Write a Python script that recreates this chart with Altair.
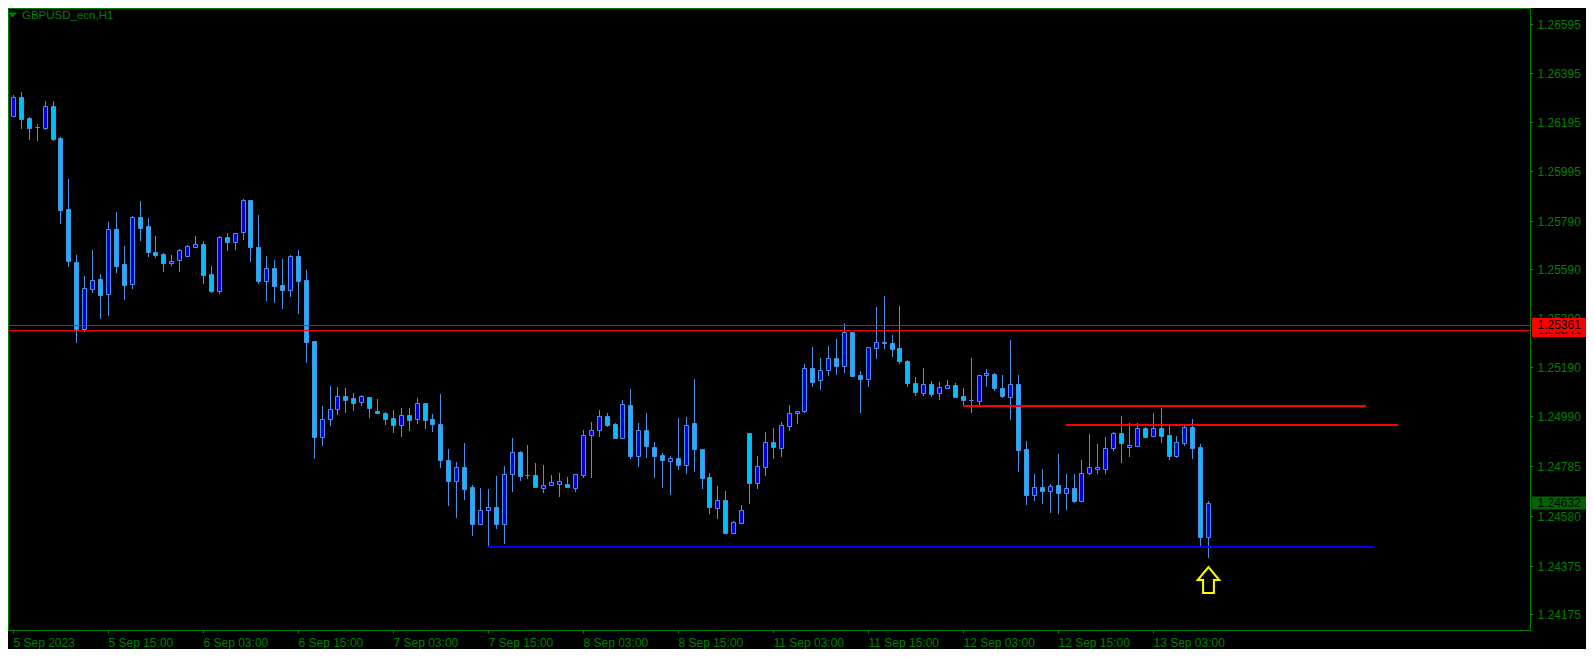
import altair as alt
import pandas as pd

# ---------------- data ----------------
bar_open = [
    1.26220, 1.26296, 1.26209, 1.26172, 1.26171, 1.26259, 1.26127, 1.25836, 1.25622, 1.25345,
    1.25510, 1.25549, 1.25490, 1.25754, 1.25612, 1.25529, 1.25805, 1.25768, 1.25661, 1.25653,
    1.25617, 1.25629, 1.25646, 1.25683, 1.25693, 1.25571, 1.25503, 1.25721, 1.25703, 1.25742,
    1.25873, 1.25680, 1.25543, 1.25594, 1.25525, 1.25507, 1.25643, 1.25545, 1.25295, 1.24901,
    1.24975, 1.25016, 1.25069, 1.25061, 1.25045, 1.25065, 1.25009, 1.25001, 1.24979, 1.24953,
    1.24991, 1.24977, 1.25040, 1.24975, 1.24954, 1.24808, 1.24723, 1.24778, 1.24696, 1.24547,
    1.24601, 1.24617, 1.24547, 1.24749, 1.24839, 1.24745, 1.24745, 1.24692, 1.24704, 1.24708,
    1.24708, 1.24694, 1.24748, 1.24909, 1.24930, 1.24987, 1.24954, 1.24897, 1.25032, 1.24826,
    1.24930, 1.24860, 1.24830, 1.24803, 1.24815, 1.24786, 1.24959, 1.24855, 1.24737, 1.24611,
    1.24642, 1.24510, 1.24551, 1.24917, 1.24715, 1.24780, 1.24880, 1.24858, 1.24949, 1.25000,
    1.25007, 1.25184, 1.25135, 1.25176, 1.25225, 1.25192, 1.25332, 1.25155, 1.25141, 1.25266,
    1.25287, 1.25287, 1.25266, 1.25213, 1.25122, 1.25084, 1.25118, 1.25084, 1.25103, 1.25115,
    1.25069, 1.25053, 1.25051, 1.25155, 1.25159, 1.25103, 1.25068, 1.25118, 1.24855, 1.24666,
    1.24696, 1.24682, 1.24704, 1.24674, 1.24692, 1.24641, 1.24755, 1.24772, 1.24772, 1.24856,
    1.24917, 1.24860, 1.24867, 1.24938, 1.24908, 1.24938, 1.24909, 1.24826, 1.24879, 1.24942,
    1.24863, 1.24493,
]
bar_high = [
    1.26305, 1.26316, 1.26213, 1.26185, 1.26279, 1.26279, 1.26131, 1.25960, 1.25647, 1.25562,
    1.25669, 1.25570, 1.25783, 1.25824, 1.25686, 1.25809, 1.25870, 1.25799, 1.25725, 1.25657,
    1.25647, 1.25673, 1.25690, 1.25727, 1.25706, 1.25604, 1.25727, 1.25739, 1.25738, 1.25878,
    1.25873, 1.25813, 1.25643, 1.25627, 1.25632, 1.25649, 1.25668, 1.25587, 1.25295, 1.25029,
    1.25111, 1.25106, 1.25102, 1.25082, 1.25075, 1.25065, 1.25058, 1.25004, 1.25012, 1.25021,
    1.25021, 1.25062, 1.25040, 1.24995, 1.25079, 1.24853, 1.24798, 1.24876, 1.24705, 1.24692,
    1.24688, 1.24742, 1.24782, 1.24897, 1.24845, 1.24869, 1.24795, 1.24786, 1.24745, 1.24755,
    1.24738, 1.24749, 1.24931, 1.24964, 1.25012, 1.25000, 1.24959, 1.25053, 1.25099, 1.24959,
    1.25000, 1.24880, 1.24835, 1.24824, 1.24979, 1.24984, 1.25140, 1.24855, 1.24753, 1.24701,
    1.24680, 1.24556, 1.24622, 1.24917, 1.24824, 1.24922, 1.24938, 1.24962, 1.25034, 1.25008,
    1.25200, 1.25271, 1.25225, 1.25276, 1.25304, 1.25370, 1.25332, 1.25173, 1.25270, 1.25435,
    1.25481, 1.25319, 1.25441, 1.25217, 1.25147, 1.25184, 1.25132, 1.25128, 1.25136, 1.25123,
    1.25103, 1.25225, 1.25155, 1.25180, 1.25164, 1.25155, 1.25300, 1.25155, 1.24885, 1.24749,
    1.24770, 1.24708, 1.24833, 1.24749, 1.24749, 1.24808, 1.24913, 1.24872, 1.24901, 1.24922,
    1.24987, 1.24959, 1.24959, 1.24942, 1.25000, 1.25020, 1.24950, 1.24905, 1.24950, 1.24975,
    1.24873, 1.24639,
]
bar_low = [
    1.26216, 1.26167, 1.26120, 1.26117, 1.26163, 1.26117, 1.25777, 1.25601, 1.25288, 1.25331,
    1.25494, 1.25388, 1.25400, 1.25576, 1.25465, 1.25510, 1.25707, 1.25642, 1.25638, 1.25581,
    1.25605, 1.25581, 1.25641, 1.25679, 1.25531, 1.25494, 1.25490, 1.25666, 1.25671, 1.25710,
    1.25621, 1.25531, 1.25461, 1.25453, 1.25429, 1.25478, 1.25408, 1.25207, 1.24814, 1.24867,
    1.24949, 1.24994, 1.25002, 1.25010, 1.25031, 1.24981, 1.24995, 1.24953, 1.24920, 1.24903,
    1.24928, 1.24956, 1.24936, 1.24924, 1.24777, 1.24620, 1.24571, 1.24645, 1.24497, 1.24547,
    1.24452, 1.24526, 1.24465, 1.24678, 1.24723, 1.24731, 1.24696, 1.24674, 1.24702, 1.24656,
    1.24694, 1.24678, 1.24735, 1.24735, 1.24903, 1.24945, 1.24897, 1.24897, 1.24814, 1.24780,
    1.24818, 1.24735, 1.24694, 1.24666, 1.24766, 1.24749, 1.24757, 1.24690, 1.24588, 1.24567,
    1.24506, 1.24506, 1.24547, 1.24629, 1.24690, 1.24743, 1.24814, 1.24820, 1.24928, 1.24957,
    1.25002, 1.25109, 1.25096, 1.25154, 1.25158, 1.25166, 1.25150, 1.25002, 1.25109, 1.25223,
    1.25264, 1.25231, 1.25203, 1.25109, 1.25072, 1.25072, 1.25068, 1.25055, 1.25102, 1.25068,
    1.25031, 1.25002, 1.25035, 1.25109, 1.25090, 1.25064, 1.24973, 1.24757, 1.24624, 1.24641,
    1.24629, 1.24592, 1.24588, 1.24603, 1.24633, 1.24641, 1.24748, 1.24749, 1.24749, 1.24844,
    1.24797, 1.24820, 1.24867, 1.24899, 1.24903, 1.24879, 1.24806, 1.24818, 1.24867, 1.24814,
    1.24456, 1.24407,
]
bar_close = [
    1.26296, 1.26208, 1.26171, 1.26172, 1.26259, 1.26126, 1.25834, 1.25625, 1.25346, 1.25512,
    1.25545, 1.25486, 1.25755, 1.25605, 1.25527, 1.25805, 1.25761, 1.25659, 1.25650, 1.25617,
    1.25625, 1.25668, 1.25684, 1.25693, 1.25568, 1.25503, 1.25721, 1.25702, 1.25738, 1.25873,
    1.25683, 1.25543, 1.25594, 1.25523, 1.25507, 1.25643, 1.25543, 1.25293, 1.24901, 1.24975,
    1.25016, 1.25069, 1.25055, 1.25040, 1.25069, 1.25022, 1.25002, 1.24977, 1.24953, 1.24991,
    1.24973, 1.25040, 1.24973, 1.24957, 1.24806, 1.24723, 1.24778, 1.24690, 1.24547, 1.24601,
    1.24617, 1.24547, 1.24749, 1.24839, 1.24743, 1.24745, 1.24696, 1.24704, 1.24716, 1.24720,
    1.24698, 1.24749, 1.24909, 1.24930, 1.24987, 1.24953, 1.24897, 1.25036, 1.24826, 1.24930,
    1.24865, 1.24826, 1.24806, 1.24815, 1.24786, 1.24950, 1.24851, 1.24735, 1.24616, 1.24642,
    1.24510, 1.24552, 1.24601, 1.24715, 1.24782, 1.24880, 1.24862, 1.24950, 1.25000, 1.25008,
    1.25184, 1.25129, 1.25176, 1.25225, 1.25192, 1.25332, 1.25152, 1.25141, 1.25270, 1.25291,
    1.25292, 1.25262, 1.25213, 1.25125, 1.25088, 1.25118, 1.25080, 1.25107, 1.25115, 1.25068,
    1.25055, 1.25053, 1.25155, 1.25164, 1.25102, 1.25072, 1.25118, 1.24850, 1.24666, 1.24698,
    1.24682, 1.24700, 1.24674, 1.24692, 1.24641, 1.24755, 1.24778, 1.24778, 1.24856, 1.24917,
    1.24879, 1.24869, 1.24938, 1.24903, 1.24938, 1.24908, 1.24826, 1.24880, 1.24942, 1.24858,
    1.24493, 1.24632,
]

tick_bars = [0, 12, 24, 36, 48, 60, 72, 84, 96, 108, 120, 132, 144]
tick_labels = ["5 Sep 2023", "5 Sep 15:00", "6 Sep 03:00", "6 Sep 15:00", "7 Sep 03:00",
               "7 Sep 15:00", "8 Sep 03:00", "8 Sep 15:00", "11 Sep 03:00", "11 Sep 15:00",
               "12 Sep 03:00", "12 Sep 15:00", "13 Sep 03:00"]
price_ticks = [1.26595, 1.26395, 1.26195, 1.25995, 1.25790, 1.25590, 1.25390,
               1.25190, 1.24990, 1.24785, 1.24580, 1.24375, 1.24175]

thin_level_price = [1.25361, 1.25341]
thin_level_start = [-10, -10]
thin_level_end = [200, 200]
thin_level_color = ["#ff0000", "#ff0000"]

thick_level_price = [1.25031, 1.24953, 1.24452]
thick_level_start = [120, 133, 60]
thick_level_end = [171, 175, 172]
thick_level_color = ["#ff0000", "#ff0000", "#0000ff"]

label_price = [1.25341, 1.25361, 1.24632]
label_text = ["1.25341", "1.25361", "1.24632"]
label_fill = ["#ff0000", "#ff0000", "#006400"]

arrow_bar = [151]
arrow_price = [1.24317]

symbol_title = "GBPUSD_ecn,H1"

# ---------------- styling ----------------
GREEN = "#008000"
WICK = "#4f8fe6"
BULL = "#0000dc"
BEAR = "#00bfff"
FONT = "Liberation Sans"

bars = pd.DataFrame({"i": list(range(len(bar_open))), "o": bar_open, "h": bar_high,
                     "l": bar_low, "c": bar_close})
bars["dir"] = ["up" if c > o else "down" for o, c in zip(bar_open, bar_close)]

xs = alt.Scale(domain=[0, 191.04], nice=False, zero=False, round=True)
ys = alt.Scale(domain=[1.2411059, 1.2666186], nice=False, zero=False, round=True)

label_expr = "[" + ",".join("'%s'" % s for s in tick_labels) + "][round(datum.value / 12)]"
x_axis = alt.Axis(values=tick_bars, labelExpr=label_expr, orient="bottom", title=None,
                  grid=False, domain=False, ticks=True, tickSize=3, tickColor=GREEN,
                  labelColor=GREEN, labelFont=FONT, labelFontSize=12, labelAlign="left",
                  labelBaseline="top", labelPadding=4, labelFlush=False,
                  labelOverlap=False, labelBound=False)
y_axis = alt.Axis(values=price_ticks, format=".5f", orient="right", title=None,
                  grid=False, domain=False, ticks=True, tickSize=3, tickColor=GREEN,
                  labelColor=GREEN, labelFont=FONT, labelFontSize=12, labelAlign="left",
                  labelBaseline="middle", labelPadding=4, labelFlush=False,
                  labelOverlap=False, labelBound=False)


def X(f):
    return alt.X(f, type="quantitative", scale=xs, axis=x_axis)


def Y(f):
    return alt.Y(f, type="quantitative", scale=ys, axis=y_axis)


wicks = alt.Chart(bars).mark_rule(color=WICK, strokeWidth=1, xOffset=0.5, clip=True).encode(
    x=X("i"), y=Y("l"), y2=alt.Y2("h"))

bodies = alt.Chart(bars).mark_bar(size=4, stroke=WICK, strokeWidth=1, xOffset=0.5,
                                  yOffset=0.5, y2Offset=0.5, clip=True).encode(
    x=X("i"), y=Y("o"), y2=alt.Y2("c"),
    fill=alt.Fill("dir:N", scale=alt.Scale(domain=["up", "down"], range=[BULL, BEAR]),
                  legend=None))

thin_df = pd.DataFrame({"p": thin_level_price, "s": thin_level_start,
                        "e": thin_level_end, "col": thin_level_color})
thin = alt.Chart(thin_df).mark_rule(strokeWidth=1, yOffset=0.5, clip=True).encode(
    x=X("s"), x2=alt.X2("e"), y=Y("p"), color=alt.Color("col:N", scale=None))

thick_df = pd.DataFrame({"p": thick_level_price, "s": thick_level_start,
                         "e": thick_level_end, "col": thick_level_color})
thick = alt.Chart(thick_df).mark_rule(strokeWidth=2, clip=True).encode(
    x=X("s"), x2=alt.X2("e"), y=Y("p"), color=alt.Color("col:N", scale=None))

label_layers = []
for p, t, f in zip(label_price, label_text, label_fill):
    df = pd.DataFrame({"p": [p], "t": [t], "f": [f]})
    half = 6.5 if f != "#ff0000" else 7
    label_layers.append(
        alt.Chart(df).mark_rect(clip=False, yOffset=-half, y2Offset=half).encode(
            x=alt.value(1524), x2=alt.value(1582), y=Y("p"), y2=alt.Y2("p"),
            color=alt.Color("f:N", scale=None)))
    label_layers.append(
        alt.Chart(df).mark_text(align="left", baseline="middle", font=FONT, fontSize=12,
                                color="black", clip=False).encode(
            x=alt.value(1529.5), y=Y("p"), text="t:N"))

ARROW = "M0,-1.2L1,0L0.5,0L0.5,1.2L-0.5,1.2L-0.5,0L-1,0Z"
arrow_df = pd.DataFrame({"i": arrow_bar, "p": arrow_price})
arrow = alt.Chart(arrow_df).mark_point(shape=ARROW, size=466, filled=True, fill="black",
                                       stroke="#ffff00", strokeWidth=2, opacity=1,
                                       xOffset=0.5).encode(x=X("i"), y=Y("p"))

title_df = pd.DataFrame({"t": [symbol_title]})
tri = alt.Chart(title_df).mark_point(shape="M-1,-0.5L1,-0.5L0,0.5Z", size=100, filled=True,
                                     fill=GREEN, opacity=1, strokeWidth=0).encode(
    x=alt.value(4.5), y=alt.value(7))
title = alt.Chart(title_df).mark_text(align="left", baseline="alphabetic", font=FONT,
                                      fontSize=11.5, color=GREEN).encode(
    x=alt.value(14), y=alt.value(11.2), text="t:N")

chart = alt.layer(wicks, bodies, thin, thick, *label_layers, arrow, tri, title).properties(
    width=1522, height=622,
    autosize=alt.AutoSizeParams(type="none"),
    padding={"left": 0, "top": 0, "right": 56, "bottom": 19},
    background="black",
).configure_view(fill="black", stroke=GREEN, strokeWidth=1)

chart.save("out.html", embed_options={"renderer": "svg", "actions": False})
